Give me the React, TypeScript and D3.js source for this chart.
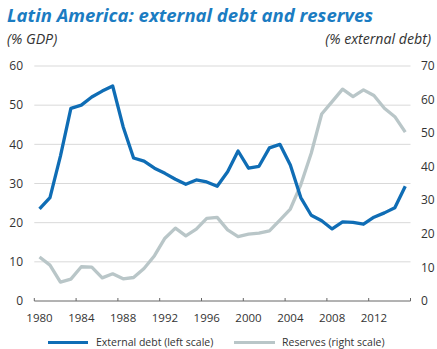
import React from "react";
import * as d3 from "d3";

const years: number[] = d3.range(1980, 2016);
const externalDebt: number[] = [
  23.5, 26.4, 37.0, 49.2, 50.0, 52.1, 53.6, 54.9, 44.5, 36.5,
  35.7, 33.9, 32.6, 31.1, 29.8, 30.9, 30.4, 29.3, 33.0, 38.3,
  33.9, 34.4, 39.1, 40.0, 34.7, 26.4, 21.9, 20.5, 18.4, 20.2,
  20.1, 19.6, 21.4, 22.5, 23.8, 29.3,
];
const reserves: number[] = [
  13.1, 10.7, 5.6, 6.5, 10.2, 10.1, 6.9, 8.1, 6.6, 7.0,
  9.7, 13.5, 18.7, 21.7, 19.4, 21.4, 24.6, 24.9, 21.2, 19.2,
  19.9, 20.2, 20.9, 24.1, 27.4, 34.6, 44.0, 55.7, 59.4, 63.1,
  60.9, 62.9, 61.2, 57.4, 54.9, 50.3,
];
const leftTicks: number[] = [0, 10, 20, 30, 40, 50, 60];
const rightTicks: number[] = [0, 10, 20, 30, 40, 50, 60, 70];
const xTicks: number[] = d3.range(1980, 2017, 4);
const xLabels: number[] = d3.range(1980, 2013, 4);

const W = 437;
const H = 349;
const x0 = 34.3;
const x1 = 410.5;
const yTop = 66;
const yBot = 301;
const font = "'Open Sans', 'Noto Sans', sans-serif";
const BLUE = "#0f6db5";
const GRAY = "#b9c6c8";
const TXT = "#333";

export default function App() {
  const x = d3.scaleLinear().domain([1980, 2016]).range([x0, x1]);
  const yL = d3.scaleLinear().domain([0, 60]).range([yBot, yTop]);
  const yR = d3.scaleLinear().domain([0, 70]).range([yBot, yTop]);

  const lineL = d3
    .line<number>()
    .x((_, i) => x(years[i] + 0.5))
    .y((d) => yL(d));
  const lineR = d3
    .line<number>()
    .x((_, i) => x(years[i] + 0.5))
    .y((d) => yR(d));

  return (
    <svg
      width={W}
      height={H}
      style={{ position: "absolute", left: 0, top: 0, background: "#fff" }}
      fontFamily={font}
    >
      <text x={7} y={22} fill="#1b7cc2" fontSize={18.5} fontWeight="bold" fontStyle="italic">
        Latin America: external debt and reserves
      </text>
      <text x={7} y={44} fill={TXT} fontSize={14.2} fontStyle="italic">
        (% GDP)
      </text>
      <text x={431} y={44} fill={TXT} fontSize={14.2} fontStyle="italic" textAnchor="end">
        (% external debt)
      </text>

      {leftTicks.filter((t) => t > 0).map((t) => (
        <line key={"g" + t} x1={x0} x2={x1} y1={yL(t)} y2={yL(t)} stroke="#d9d9d9" strokeWidth={1} />
      ))}

      {leftTicks.map((t) => (
        <text key={"l" + t} x={23} y={yL(t)} dy="0.35em" fill={TXT} fontSize={12} textAnchor="end">
          {t}
        </text>
      ))}
      {rightTicks.map((t) => (
        <text key={"r" + t} x={421} y={yR(t)} dy="0.35em" fill={TXT} fontSize={12} textAnchor="start">
          {t}
        </text>
      ))}

      <line x1={x0} x2={x1} y1={yBot} y2={yBot} stroke="#666" strokeWidth={1} />
      {xTicks.map((t) => (
        <line key={"t" + t} x1={x(t)} x2={x(t)} y1={yBot} y2={yBot - 3} stroke="#666" strokeWidth={1} />
      ))}
      {xLabels.map((t) => (
        <text key={"x" + t} x={x(t + 0.5)} y={318} dy="0.35em" fill={TXT} fontSize={11.5} textAnchor="middle">
          {t}
        </text>
      ))}

      <path d={lineR(reserves) || ""} fill="none" stroke={GRAY} strokeWidth={3.3} strokeLinejoin="round" />
      <path d={lineL(externalDebt) || ""} fill="none" stroke={BLUE} strokeWidth={3.3} strokeLinejoin="round" />

      <line x1={48} x2={88} y1={342.5} y2={342.5} stroke={BLUE} strokeWidth={3.2} />
      <text x={96} y={342.5} dy="0.35em" fill={TXT} fontSize={10.5}>
        External debt (left scale)
      </text>
      <line x1={234} x2={275} y1={342.5} y2={342.5} stroke={GRAY} strokeWidth={3.2} />
      <text x={282} y={342.5} dy="0.35em" fill={TXT} fontSize={10.5}>
        Reserves (right scale)
      </text>
    </svg>
  );
}
